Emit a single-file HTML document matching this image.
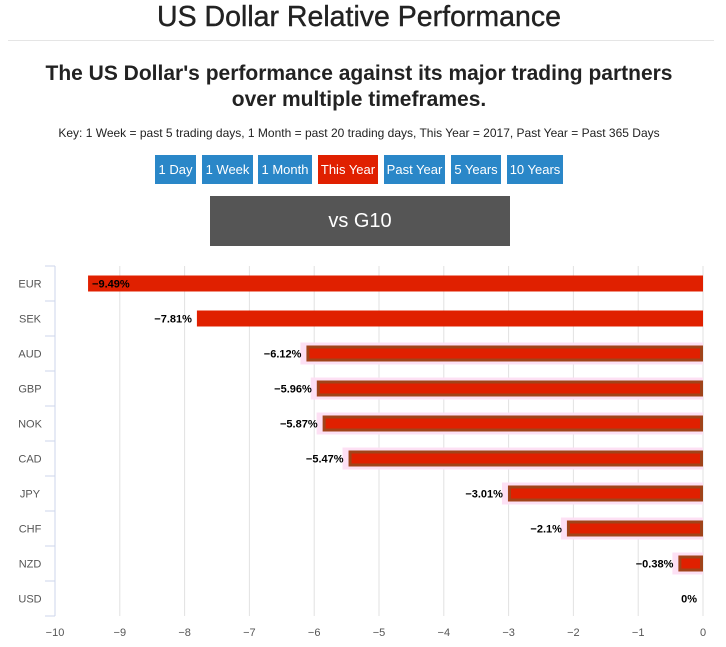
<!DOCTYPE html>
<html><head><meta charset="utf-8"><style>
body{margin:0;width:726px;height:647px;background:#fff;font-family:"Liberation Sans",sans-serif;position:relative;overflow:hidden}
.a{position:absolute}
.btn{position:absolute;top:155px;height:29px;line-height:29px;color:#fff;background:#2a87c8;font-size:13px;text-align:center}
</style></head><body>
<div class="a" style="left:0;width:718px;top:0;text-align:center;font-size:28.5px;color:#222;line-height:34px;-webkit-text-stroke:0.4px #222">US Dollar Relative Performance</div>
<div class="a" style="left:8px;width:706px;top:40px;border-top:1px solid #e5e5e5"></div>
<div class="a" style="left:0;width:718px;top:61px;text-align:center;font-size:21px;font-weight:bold;color:#222;line-height:26px">The US Dollar's performance against its major trading partners<br>over multiple timeframes.</div>
<div class="a" style="left:0;width:718px;top:126px;text-align:center;font-size:12px;color:#222">Key: 1 Week = past 5 trading days, 1 Month = past 20 trading days, This Year = 2017, Past Year = Past 365 Days</div>
<div class="btn" style="left:155px;width:41px">1 Day</div>
<div class="btn" style="left:202px;width:51px">1 Week</div>
<div class="btn" style="left:258px;width:54px">1 Month</div>
<div class="btn" style="left:318px;width:60px;background:#e02000">This Year</div>
<div class="btn" style="left:384px;width:61px">Past Year</div>
<div class="btn" style="left:451px;width:50px">5 Years</div>
<div class="btn" style="left:507px;width:56px">10 Years</div>
<div class="a" style="left:210px;top:196px;width:300px;height:50px;line-height:50px;background:#555;color:#fff;font-size:20px;text-align:center">vs G10</div>
<svg class="a" style="left:0;top:0" width="726" height="647" id="chart"></svg>
<script>
const categories=["EUR","SEK","AUD","GBP","NOK","CAD","JPY","CHF","NZD","USD"];
const values=[-9.49,-7.81,-6.12,-5.96,-5.87,-5.47,-3.01,-2.1,-0.38,0];
const labels=["-9.49%","-7.81%","-6.12%","-5.96%","-5.87%","-5.47%","-3.01%","-2.1%","-0.38%","0%"];
const highlighted=[false,false,true,true,true,true,true,true,true,false];
const ticks=[-10,-9,-8,-7,-6,-5,-4,-3,-2,-1,0];
const NS="http://www.w3.org/2000/svg",svg=document.getElementById('chart');
const x0=55,x1=703,yTop=266,band=35;
const xs=v=>x1+(v-0)*(x1-x0)/10;
const yc=i=>yTop+band*i+band/2;
function mk(t,a){const e=document.createElementNS(NS,t);for(const k in a)e.setAttribute(k,a[k]);svg.appendChild(e);return e;}
ticks.forEach(t=>{
 const g=mk('line',{x1:xs(t),x2:xs(t),y1:yTop,y2:yTop+band*10,stroke:'#e2e2e2'});
 
 
 const l=mk('text',{x:xs(t),y:636,'text-anchor':'middle','font-size':11,fill:'#555'});
 l.textContent=(t<0?'\u2212'+(-t):t);
 
 
});
const ax=mk('line',{x1:x0,x2:x0,y1:yTop,y2:yTop+band*10,stroke:'#ccd6eb'});


for(let i=0;i<=10;i++){const tk=mk('line',{x1:x0-10,x2:x0,y1:yTop+band*i,y2:yTop+band*i,stroke:'#ccd6eb'});
 
 }
categories.forEach((c,i)=>{
 const t=mk('text',{x:30,y:yc(i)+4,'text-anchor':'middle','font-size':11,fill:'#555'});t.textContent=c;
 
 
 const v=values[i],bx=xs(v),w=xs(0)-bx;
 if(highlighted[i]&&w>0){const h=mk('rect',{x:bx-6,y:yc(i)-11,width:w+6,height:22,fill:'#fde0f4'});
  
  }
 if(w>0){const b=mk('rect',{x:bx,y:yc(i)-8,width:w,height:16,fill:'#e02000'});
  if(highlighted[i]){b.setAttribute('stroke','#a0441a');b.setAttribute('stroke-width','3');b.setAttribute('x',bx+1.5);b.setAttribute('width',Math.max(0,w-3));b.setAttribute('y',yc(i)-6.5);b.setAttribute('height',13);}
  
  }
 const inside=i===0;
 const lt=mk('text',{x:inside?bx+4:bx-5,y:yc(i)+4,'text-anchor':inside?'start':'end','font-size':11,'font-weight':'bold',fill:'#000'});
 if(i===9){lt.setAttribute('x',697);}
 lt.textContent=labels[i].replace('-','\u2212');
 
 
});
</script>
</body></html>
